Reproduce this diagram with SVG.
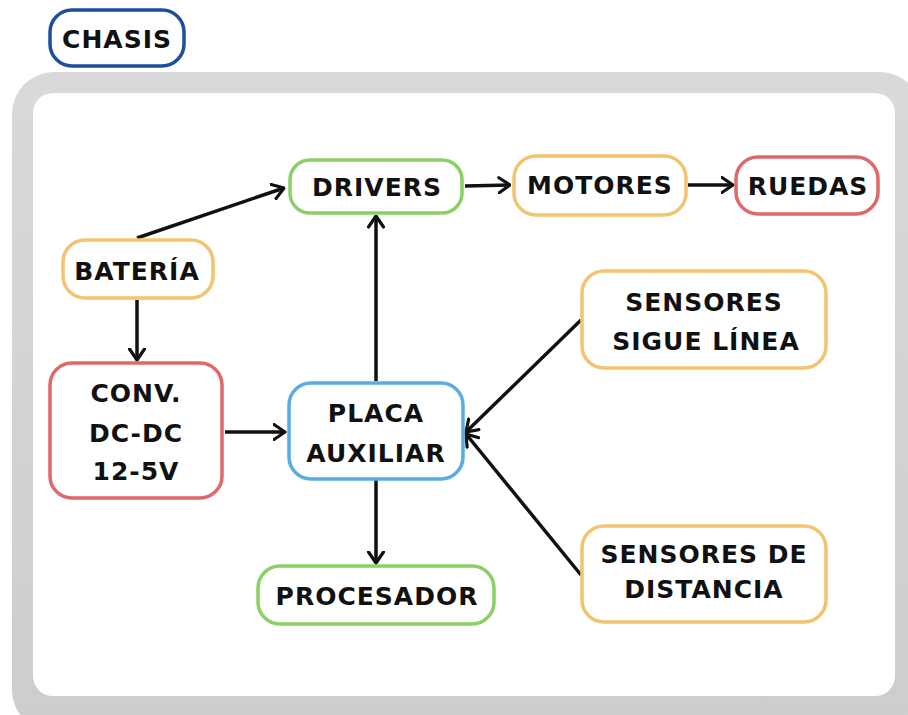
<svg xmlns="http://www.w3.org/2000/svg" width="908" height="715" viewBox="0 0 908 715">
<defs>
<style>
.node{fill:#fff;stroke-width:3.5}
.g{stroke:#8ad065}.o{stroke:#f1c46f}.r{stroke:#e06868}.b{stroke:#58aee3}.n{stroke:#1d4f9b}
text{font-family:"DejaVu Sans","Liberation Sans",sans-serif;font-weight:bold;font-size:25px;letter-spacing:1px;fill:#111;text-anchor:middle}
.c line{stroke:#111;stroke-width:3.5;marker-end:url(#arr)}
</style>
<marker id="arr" viewBox="0 0 14 18" refX="12.5" refY="9" markerWidth="14" markerHeight="18" markerUnits="userSpaceOnUse" orient="auto">
<path d="M1.5,1.5 L12.5,9 L1.5,16.5" fill="none" stroke="#111" stroke-width="3.2" stroke-linecap="round" stroke-linejoin="round"/>
</marker>
<linearGradient id="frame" x1="0" y1="0" x2="0" y2="1">
<stop offset="0" stop-color="#d9d9d9"/><stop offset="1" stop-color="#cdcdcd"/>
</linearGradient>
</defs>
<rect width="908" height="715" fill="#fff"/>
<g id="chasis-frame">
<rect x="12" y="72" width="910" height="660" rx="42" fill="url(#frame)"/>
<rect x="33" y="93" width="862" height="603" rx="20" fill="#fff"/>
</g>
<g id="chasis"><rect class="node n" x="50" y="10" width="134" height="56" rx="22"/><text x="117" y="48">CHASIS</text></g>
<g class="c" id="connectors">
<line x1="137" y1="238" x2="284" y2="188"/>
<line x1="137" y1="300" x2="137" y2="360"/>
<line x1="225" y1="432" x2="285" y2="432"/>
<line x1="376" y1="381" x2="376" y2="216"/>
<line x1="465" y1="186" x2="510" y2="185"/>
<line x1="688" y1="185" x2="733" y2="185"/>
<line x1="581" y1="320" x2="466" y2="432"/>
<line x1="581" y1="575" x2="466" y2="434"/>
<line x1="376" y1="480" x2="376" y2="563"/>
</g>
<g id="drivers"><rect class="node g" x="290" y="160" width="172" height="53" rx="20"/><text x="377" y="196">DRIVERS</text></g>
<g id="motores"><rect class="node o" x="514" y="156" width="172" height="59" rx="22"/><text x="600" y="194">MOTORES</text></g>
<g id="ruedas"><rect class="node r" x="736" y="157" width="142" height="57" rx="22"/><text x="808" y="195">RUEDAS</text></g>
<g id="bateria"><rect class="node o" x="63" y="240" width="150" height="58" rx="22"/><text x="137" y="280">BATERÍA</text></g>
<g id="sensores-linea"><rect class="node o" x="582" y="271" width="244" height="97" rx="22"/><text x="704" y="311">SENSORES</text><text x="706" y="350">SIGUE LÍNEA</text></g>
<g id="conv"><rect class="node r" x="50" y="363" width="172" height="135" rx="22"/><text x="136" y="402">CONV.</text><text x="136" y="442">DC-DC</text><text x="136" y="480">12-5V</text></g>
<g id="placa"><rect class="node b" x="289" y="383" width="174" height="96" rx="22"/><text x="376" y="422">PLACA</text><text x="376" y="462">AUXILIAR</text></g>
<g id="sensores-distancia"><rect class="node o" x="582" y="526" width="244" height="96" rx="22"/><text x="704" y="563">SENSORES DE</text><text x="704" y="598">DISTANCIA</text></g>
<g id="procesador"><rect class="node g" x="258" y="566" width="236" height="58" rx="22"/><text x="377" y="605">PROCESADOR</text></g>
</svg>
